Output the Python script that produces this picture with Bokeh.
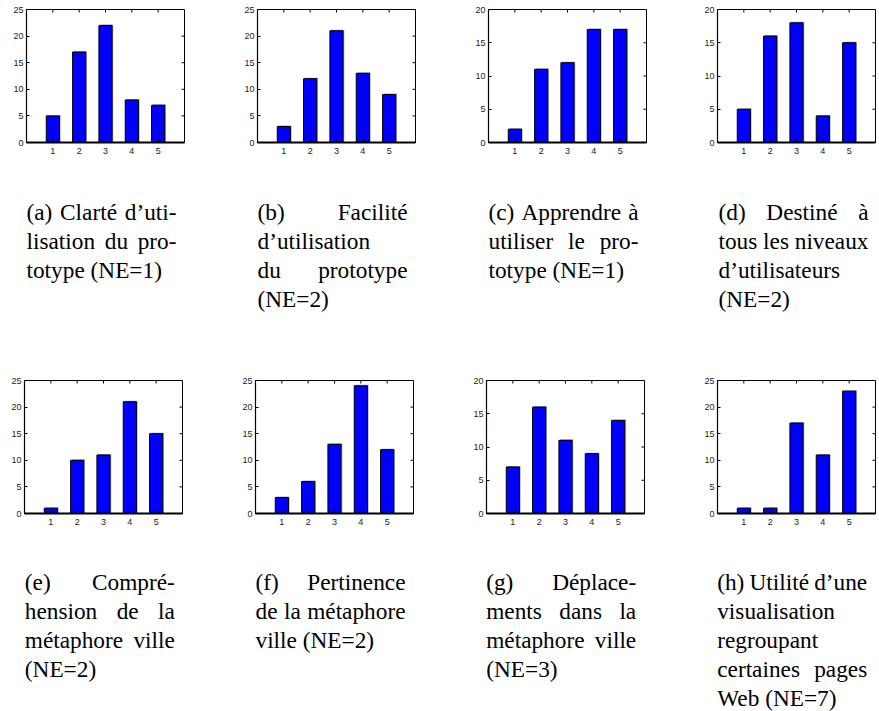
from bokeh.plotting import figure
from bokeh.models import Range1d, FixedTicker
from bokeh.layouts import row, column
from bokeh.embed import file_html
from bokeh.resources import INLINE
from bokeh.core.properties import value

# ---------------- data ----------------
categories = [1, 2, 3, 4, 5]
xticks = [1, 2, 3, 4, 5]

vals_a = [5, 17, 22, 8, 7]
vals_b = [3, 12, 21, 13, 9]
vals_c = [2, 11, 12, 17, 17]
vals_d = [5, 16, 18, 4, 15]
vals_e = [1, 10, 11, 21, 15]
vals_f = [3, 6, 13, 24, 12]
vals_g = [7, 16, 11, 9, 14]
vals_h = [1, 1, 17, 11, 23]

ymax_a, ymax_b, ymax_c, ymax_d = 25, 25, 20, 20
ymax_e, ymax_f, ymax_g, ymax_h = 25, 25, 20, 25

yticks_25 = [0, 5, 10, 15, 20, 25]
yticks_20 = [0, 5, 10, 15, 20]

cap_a = ["(a) Clarté d’uti-", "lisation du pro-", "totype (NE=1)"]
cap_b = ["(b) Facilité", "d’utilisation", "du prototype", "(NE=2)"]
cap_c = ["(c) Apprendre à", "utiliser le pro-", "totype (NE=1)"]
cap_d = ["(d) Destiné à", "tous les niveaux", "d’utilisateurs", "(NE=2)"]
cap_e = ["(e) Compré-", "hension de la", "métaphore ville", "(NE=2)"]
cap_f = ["(f) Pertinence", "de la métaphore", "ville (NE=2)"]
cap_g = ["(g) Déplace-", "ments dans la", "métaphore ville", "(NE=3)"]
cap_h = ["(h) Utilité d’une", "visualisation", "regroupant", "certaines pages", "Web (NE=7)"]

# ---------------- layout / style ----------------
FRAME_W = 158
CAP_FONT_PX = 23.3
CAP_COL_W = 150
TICK_LEN = 3

# Times / Liberation Serif advance widths (1/1000 em)
TIMES_W = {'(': 333, ')': 333, 'a': 444, 'b': 500, 'c': 444, 'd': 500, 'e': 444,
           'f': 333, 'g': 500, 'h': 500, 'i': 278, 'j': 278, 'k': 500, 'l': 278,
           'm': 778, 'n': 500, 'o': 500, 'p': 500, 'q': 500, 'r': 333, 's': 389,
           't': 278, 'u': 500, 'v': 500, 'w': 722, 'x': 500, 'y': 500, 'z': 444,
           'A': 722, 'C': 667, 'D': 722, 'E': 611, 'F': 556, 'N': 722, 'P': 556,
           'U': 722, 'W': 944, 'é': 444, 'à': 444, '’': 333, '-': 333, '=': 564,
           ' ': 250}


def text_width(s):
    return sum(TIMES_W.get(ch, 500) for ch in s) / 1000.0 * CAP_FONT_PX


def chart(vals, ymax, yticks, width, bl, bt, frame_h, bb):
    br = width - bl - FRAME_W
    p = figure(width=width, height=bt + frame_h + bb,
               x_range=Range1d(0, 6), y_range=Range1d(0, ymax),
               min_border_left=bl, min_border_right=br,
               min_border_top=bt, min_border_bottom=bb,
               output_backend="svg", toolbar_location=None, tools="")
    p.xgrid.visible = False
    p.ygrid.visible = False
    p.outline_line_color = "black"
    p.outline_line_width = 1
    p.outline_line_alpha = 1.0
    p.background_fill_color = "white"
    p.border_fill_color = "white"

    xmax = p.x_range.end
    px_x = xmax / float(FRAME_W)
    px_y = ymax / float(frame_h)
    # light grey drop shadow of each bar
    p.vbar(x=[c + px_x * 1.2 for c in categories],
           top=[v + px_y * 1.0 for v in vals], bottom=0,
           width=0.5, fill_color="#a8a8a8", line_color=None)
    p.vbar(x=categories, top=vals, bottom=0, width=0.5,
           fill_color="#0000FF", line_color="black", line_width=1)

    # inward ticks on the top and right sides of the box
    p.segment(x0=xticks, y0=[ymax] * len(xticks), x1=xticks,
              y1=[ymax - TICK_LEN * px_y] * len(xticks), line_color="black", line_width=1)
    p.segment(x0=[xmax] * len(yticks), y0=yticks, x1=[xmax - TICK_LEN * px_x] * len(yticks),
              y1=yticks, line_color="black", line_width=1)

    p.xaxis.ticker = FixedTicker(ticks=xticks)
    p.yaxis.ticker = FixedTicker(ticks=yticks)
    for ax in (p.xaxis[0], p.yaxis[0]):
        ax.major_tick_in = TICK_LEN
        ax.major_tick_out = 0
        ax.minor_tick_in = 0
        ax.minor_tick_out = 0
        ax.major_tick_line_color = "black"
        ax.axis_line_color = "black"
        ax.major_label_text_font = "Liberation Sans"
        ax.major_label_text_font_size = "9px"
        ax.major_label_text_color = "#1a1a1a"
    p.xaxis.axis_line_width = 2
    p.yaxis.axis_line_width = 1.2
    p.xaxis.major_label_standoff = 5
    p.yaxis.major_label_standoff = 3
    return p


def caption_fig(width, height, lefts, first_base, spacing, caps):
    p = figure(width=width, height=height,
               x_range=Range1d(0, width), y_range=Range1d(height, 0),
               x_axis_type=None, y_axis_type=None, min_border=0,
               output_backend="svg", toolbar_location=None, tools="")
    p.xgrid.visible = False
    p.ygrid.visible = False
    p.outline_line_color = None
    p.background_fill_color = "white"
    p.border_fill_color = "white"
    lx, ly, lt = [], [], []
    rx, ry, rt = [], [], []
    for left, cap in zip(lefts, caps):
        for i, line in enumerate(cap):
            y = first_base + i * spacing
            words = line.split(" ")
            if i == len(cap) - 1 or len(words) == 1:
                lx.append(left); ly.append(y); lt.append(line)
                continue
            ws = [text_width(w) for w in words]
            gap = (CAP_COL_W - sum(ws)) / (len(words) - 1)
            x = left
            for j, (w, wd) in enumerate(zip(words, ws)):
                if j == len(words) - 1:
                    rx.append(left + CAP_COL_W); ry.append(y); rt.append(w)
                else:
                    lx.append(x); ly.append(y); lt.append(w)
                x += wd + gap
    common = dict(text_baseline="alphabetic", text_font=value("Liberation Serif"),
                  text_font_size=f"{CAP_FONT_PX}px", text_color="black")
    p.text(x=lx, y=ly, text=lt, text_align="left", **common)
    p.text(x=rx, y=ry, text=rt, text_align="right", **common)
    return p


widths = [231, 231, 231, 186]
row1_left = [26, 26, 26, 24]
row2_left = [24, 24, 24, 24]

row1_specs = [(vals_a, ymax_a, yticks_25), (vals_b, ymax_b, yticks_25),
              (vals_c, ymax_c, yticks_20), (vals_d, ymax_d, yticks_20)]
row2_specs = [(vals_e, ymax_e, yticks_25), (vals_f, ymax_f, yticks_25),
              (vals_g, ymax_g, yticks_20), (vals_h, ymax_h, yticks_25)]

row1 = row(*[chart(v, m, t, w, b, 9, 133, 20)
             for (v, m, t), w, b in zip(row1_specs, widths, row1_left)], spacing=0)
cap1 = caption_fig(879, 206, [26, 257, 488, 718], 49, 29,
                   [cap_a, cap_b, cap_c, cap_d])
row2 = row(*[chart(v, m, t, w, b, 12, 133, 20)
             for (v, m, t), w, b in zip(row2_specs, widths, row2_left)], spacing=0)
cap2 = caption_fig(879, 178, [24.3, 255, 485.7, 716.7], 48, 29,
                   [cap_e, cap_f, cap_g, cap_h])

layout = column(row1, cap1, row2, cap2, spacing=0)

open("out.html", "w").write(file_html(layout, INLINE))
